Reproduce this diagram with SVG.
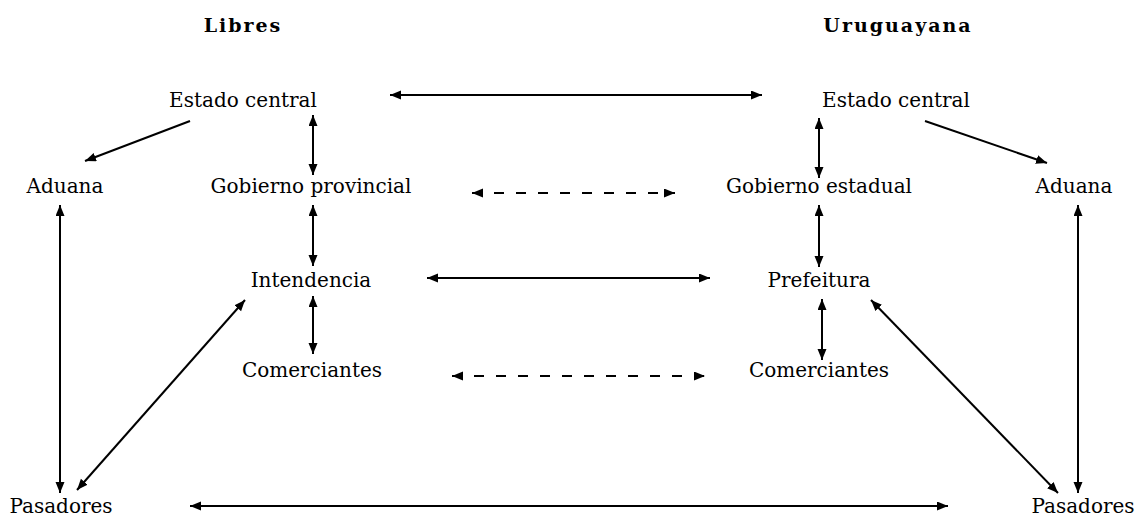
<svg xmlns="http://www.w3.org/2000/svg" width="1138" height="516" viewBox="0 0 1138 516">
<style>
text{font-family:"DejaVu Serif","Liberation Serif",serif;font-size:20px;fill:#000;text-anchor:middle}
.h{font-weight:bold;font-size:19px;letter-spacing:2px}
.c{stroke:#000;stroke-width:2;fill:none}
.d{stroke-dasharray:10 12}
</style>
<defs>
<marker id="ah" markerUnits="userSpaceOnUse" markerWidth="12" markerHeight="10" refX="11" refY="4.5" orient="auto-start-reverse">
<path d="M0,0 L11,4.5 L0,9 z" fill="#000"/>
</marker>
</defs>
<rect width="1138" height="516" fill="#fff"/>
<g id="headers">
<text class="h" x="243" y="32">Libres</text>
<text class="h" x="898" y="32">Uruguayana</text>
</g>
<g id="n-estado-l"><text x="243" y="107">Estado central</text></g>
<g id="n-aduana-l"><text x="65" y="193">Aduana</text></g>
<g id="n-gob-prov"><text x="311" y="193">Gobierno provincial</text></g>
<g id="n-intendencia"><text x="311" y="287">Intendencia</text></g>
<g id="n-com-l"><text x="312" y="377">Comerciantes</text></g>
<g id="n-pas-l"><text x="61" y="513">Pasadores</text></g>
<g id="n-estado-r"><text x="896" y="107">Estado central</text></g>
<g id="n-gob-est"><text x="819" y="193">Gobierno estadual</text></g>
<g id="n-aduana-r"><text x="1074" y="193">Aduana</text></g>
<g id="n-prefeitura"><text x="819" y="287">Prefeitura</text></g>
<g id="n-com-r"><text x="819" y="377">Comerciantes</text></g>
<g id="n-pas-r"><text x="1083" y="513">Pasadores</text></g>
<g id="connectors">
<line class="c" x1="390" y1="95" x2="762" y2="95" marker-start="url(#ah)" marker-end="url(#ah)"/>
<line class="c" x1="190" y1="121" x2="85" y2="161" marker-end="url(#ah)"/>
<line class="c" x1="925" y1="121" x2="1047" y2="163" marker-end="url(#ah)"/>
<line class="c" x1="313" y1="115" x2="313" y2="175" marker-start="url(#ah)" marker-end="url(#ah)"/>
<line class="c" x1="819" y1="118" x2="819" y2="178" marker-start="url(#ah)" marker-end="url(#ah)"/>
<line class="c d" x1="472" y1="193" x2="675" y2="193" marker-start="url(#ah)" marker-end="url(#ah)"/>
<line class="c" x1="313" y1="205" x2="313" y2="266" marker-start="url(#ah)" marker-end="url(#ah)"/>
<line class="c" x1="819" y1="205" x2="819" y2="267" marker-start="url(#ah)" marker-end="url(#ah)"/>
<line class="c" x1="60" y1="205" x2="60" y2="493" marker-start="url(#ah)" marker-end="url(#ah)"/>
<line class="c" x1="1078" y1="205" x2="1078" y2="493" marker-start="url(#ah)" marker-end="url(#ah)"/>
<line class="c" x1="427" y1="278" x2="710" y2="278" marker-start="url(#ah)" marker-end="url(#ah)"/>
<line class="c" x1="313" y1="296" x2="313" y2="354" marker-start="url(#ah)" marker-end="url(#ah)"/>
<line class="c" x1="822" y1="299" x2="822" y2="360" marker-start="url(#ah)" marker-end="url(#ah)"/>
<line class="c d" x1="452" y1="376" x2="705" y2="376" marker-start="url(#ah)" marker-end="url(#ah)"/>
<line class="c" x1="245" y1="300" x2="77" y2="490" marker-start="url(#ah)" marker-end="url(#ah)"/>
<line class="c" x1="871" y1="300" x2="1058" y2="493" marker-start="url(#ah)" marker-end="url(#ah)"/>
<line class="c" x1="190" y1="506" x2="948" y2="506" marker-start="url(#ah)" marker-end="url(#ah)"/>
</g>
</svg>
